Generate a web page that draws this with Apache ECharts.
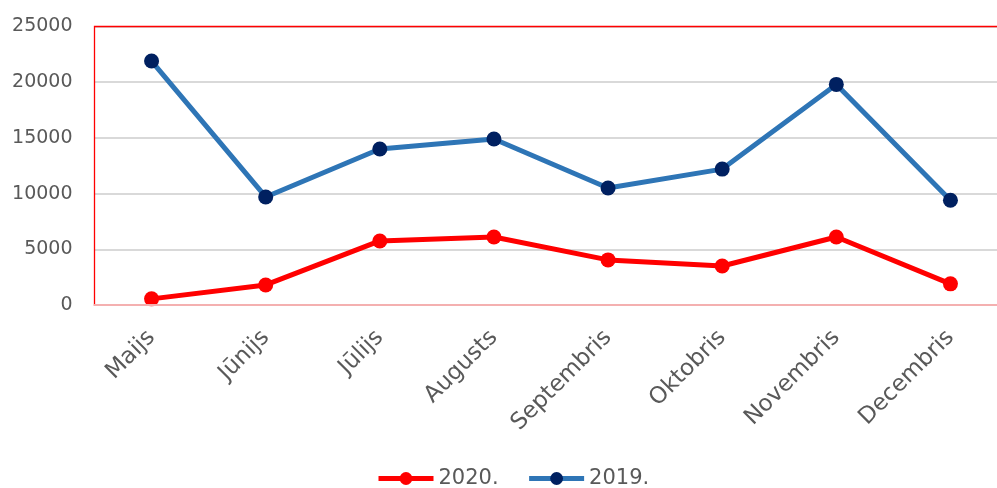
<!DOCTYPE html>
<html>
<head>
<meta charset="utf-8">
<script src="https://cdn.jsdelivr.net/npm/echarts@6/dist/echarts.min.js"></script>
<style>
  html, body { margin: 0; padding: 0; background: #fff; }
  #chart { width: 997px; height: 488px; }
</style>
</head>
<body>
<div id="chart"></div>
<script>
// months (Latvian)
var months = ["Maijs", "Jūnijs", "Jūlijs", "Augusts", "Septembris", "Oktobris", "Novembris", "Decembris"];
var values2020 = [550, 1800, 5750, 6100, 4050, 3500, 6100, 1900];
var values2019 = [21900, 9700, 14000, 14900, 10500, 12200, 19800, 9400];

var chart = echarts.init(document.getElementById("chart"));
var font = "DejaVu Sans";

chart.setOption({
  animation: false,
  grid: {
    left: 94.5,
    top: 26.5,
    bottom: 183,
    width: 913,
    show: true,
    z: 5,
    outerBoundsMode: "none",
    containLabel: false,
    borderColor: "#ff0000",
    borderWidth: 1.3,
  },
  legend: {
    top: 463,
    left: 371,
    itemWidth: 55,
    itemHeight: 16,
    itemGap: 28,
    lineStyle: { width: 5 },
    textStyle: { fontFamily: font, fontSize: 21, color: "#595959" },
    data: ["2020.", "2019."],
  },
  xAxis: {
    type: "category",
    data: months,
    z: 6,
    boundaryGap: true,
    axisTick: { show: false },
    axisLine: { lineStyle: { color: "#f4b0b0", width: 2 } },
    axisLabel: {
      rotate: 45,
      margin: 29,
      interval: 0,
      fontFamily: font,
      fontSize: 23,
      color: "#595959",
    },
  },
  yAxis: {
    type: "value",
    min: 0,
    max: 25000,
    interval: 5000,
    axisLine: { show: false },
    axisTick: { show: false },
    splitLine: { lineStyle: { color: "#d9d9d9", width: 2 } },
    axisLabel: {
      margin: 22,
      fontFamily: font,
      fontSize: 19,
      color: "#595959",
      formatter: function (v) { return String(v); },
    },
  },
  series: [
    {
      name: "2020.",
      type: "line",
      data: values2020,
      symbol: "circle",
      symbolSize: 15,
      lineStyle: { color: "#ff0000", width: 5 },
      itemStyle: { color: "#ff0000" },
      z: 3,
    },
    {
      name: "2019.",
      type: "line",
      data: values2019,
      symbol: "circle",
      symbolSize: 15,
      lineStyle: { color: "#2e75b6", width: 5 },
      itemStyle: { color: "#002060" },
      z: 2,
    },
  ],
});
</script>
</body>
</html>
